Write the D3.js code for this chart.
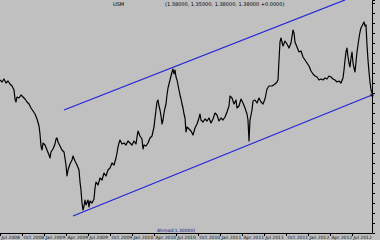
<!DOCTYPE html>
<html>
<head>
<meta charset="utf-8">
<script src="https://cdn.jsdelivr.net/npm/d3@7"></script>
<style>
  html, body { margin: 0; padding: 0; background: #c0c0c0; }
  svg { display: block; }
</style>
</head>
<body>
<div id="chart"></div>
<script>
(() => {
  const width = 380;
  const height = 240;

  // bar numbers and close prices
  const bars = [0,2,4,6,8,10,12,14,15,16,17,19,21,23,25,27,29,31,33,35,37,39,40,41,42,43,45,47,49,50,51,53,55,56,57,58,60,62,64,66,67,68,70,72,73,75,77,79,80,81,82,83,84,85,86,88,89,90,92,94,95,96,98,100,102,104,106,108,110,112,114,116,117,118,119,120,122,124,126,128,130,132,134,136,137,138,140,142,143,144,146,148,150,152,154,155,156,157,158,159,160,161,162,163,164,165,166,167,168,169,170,171,172,173,174,175,176,177,178,179,180,181,182,183,184,185,186,187,189,191,193,195,197,199,200,201,203,205,207,209,211,213,215,217,219,221,223,225,227,229,230,232,234,236,237,239,241,243,245,247,248,249,250,252,253,255,257,259,261,263,265,266,267,269,272,275,277,278,279,280,281,283,285,287,289,291,293,294,295,297,299,301,303,305,307,309,311,313,315,317,319,321,323,325,327,329,331,333,335,337,339,341,343,344,345,346,347,348,349,350,351,352,353,354,355,356,357,358,359,360,361,362,363,364,365,366,367,368,369,370,371,372];
  const closes = [1.406,1.402,1.408,1.400,1.404,1.398,1.394,1.386,1.368,1.362,1.372,1.370,1.376,1.372,1.368,1.362,1.358,1.350,1.344,1.338,1.328,1.314,1.298,1.274,1.266,1.280,1.276,1.266,1.256,1.250,1.262,1.268,1.278,1.288,1.290,1.282,1.274,1.266,1.262,1.236,1.214,1.226,1.238,1.246,1.254,1.244,1.236,1.226,1.202,1.186,1.160,1.146,1.154,1.166,1.156,1.166,1.152,1.164,1.160,1.168,1.190,1.202,1.196,1.210,1.206,1.220,1.214,1.226,1.230,1.240,1.236,1.250,1.260,1.272,1.280,1.286,1.278,1.280,1.276,1.284,1.280,1.276,1.284,1.278,1.292,1.304,1.294,1.288,1.268,1.276,1.274,1.280,1.290,1.294,1.312,1.330,1.346,1.362,1.366,1.354,1.346,1.334,1.318,1.326,1.340,1.350,1.358,1.376,1.390,1.398,1.406,1.414,1.422,1.428,1.418,1.426,1.412,1.406,1.396,1.386,1.376,1.368,1.358,1.350,1.338,1.330,1.302,1.312,1.308,1.304,1.296,1.310,1.318,1.330,1.338,1.326,1.322,1.328,1.324,1.330,1.320,1.328,1.340,1.336,1.324,1.330,1.326,1.332,1.342,1.354,1.374,1.370,1.358,1.366,1.350,1.354,1.368,1.360,1.350,1.338,1.326,1.284,1.326,1.346,1.364,1.366,1.360,1.370,1.362,1.358,1.368,1.378,1.388,1.394,1.394,1.398,1.402,1.406,1.446,1.482,1.490,1.474,1.484,1.478,1.470,1.480,1.506,1.500,1.482,1.472,1.462,1.464,1.452,1.446,1.440,1.434,1.424,1.418,1.414,1.412,1.406,1.408,1.406,1.410,1.408,1.414,1.412,1.408,1.406,1.402,1.404,1.400,1.410,1.426,1.446,1.462,1.470,1.452,1.440,1.432,1.450,1.462,1.440,1.430,1.422,1.442,1.462,1.476,1.490,1.502,1.510,1.514,1.518,1.522,1.514,1.516,1.476,1.446,1.422,1.402,1.386,1.380];

  // channel lines: [bar, price] end points
  const upperChannel = [[64, 1.346], [345, 1.566]];
  const lowerChannel = [[73, 1.134], [372, 1.376]];

  // price axis ticks (labels fall past the window edge) and date labels
  const priceTicks = [1.120,1.140,1.160,1.180,1.200,1.220,1.240,1.260,1.280,1.300,1.320,1.340,1.360,1.380,1.400,1.420,1.440,1.460,1.480,1.500,1.520,1.540,1.560];
  const dateBars = [0,22,44,66,88,110,132,154,176,198,220,242,264,286,308,330,352];
  const dateLabels = ["Jul 2008","Oct 2008","Jan 2009","Apr 2009","Jul 2009","Oct 2009","Jan 2010","Apr 2010","Jul 2010","Oct 2010","Jan 2011","Apr 2011","Jul 2011","Oct 2011","Jan 2012","Apr 2012","Jul 2012"];

  const symbol = "USM";
  const quote = "(1.38000, 1.35000, 1.38000, 1.38000 +0.0000)";
  const tag = "Ahmad(1.30000)";

  const plotRight = 372;
  const plotBottom = 233;

  const x = d3.scaleLinear().domain([0, 372]).range([0, plotRight]);
  const y = d3.scaleLinear().domain([1.100, 1.566]).range([plotBottom, 0]);

  const svg = d3.select("#chart")
    .append("svg")
    .attr("width", width)
    .attr("height", height)
    .style("background", "#c0c0c0");

  const series = bars.map((b, i) => [b, closes[i]]);

  const line = d3.line()
    .x(d => x(d[0]))
    .y(d => y(d[1]));

  // price line
  svg.append("path")
    .datum(series)
    .attr("fill", "none")
    .attr("stroke", "#000")
    .attr("stroke-width", 1.2)
    .attr("stroke-linejoin", "round")
    .attr("d", line);

  // channel
  svg.selectAll(".channel")
    .data([upperChannel, lowerChannel])
    .join("path")
    .attr("class", "channel")
    .attr("fill", "none")
    .attr("stroke", "#2424d8")
    .attr("stroke-width", 1.3)
    .attr("d", line);

  svg.append("rect")
    .attr("x", x(lowerChannel[1][0]) - 1.5)
    .attr("y", y(lowerChannel[1][1]) - 1.5)
    .attr("width", 3)
    .attr("height", 3)
    .attr("fill", "#222");

  // right price axis, ticks only (the labels sit outside the window)
  const yAxis = svg.append("g")
    .attr("transform", `translate(${plotRight},0)`)
    .call(d3.axisRight(y).tickValues(priceTicks).tickSize(3).tickFormat(""));
  yAxis.select(".domain").attr("stroke", "#000");
  yAxis.selectAll(".tick line").attr("stroke", "#000");

  // bottom time axis
  svg.append("line")
    .attr("x1", 0).attr("x2", plotRight)
    .attr("y1", plotBottom + 0.5).attr("y2", plotBottom + 0.5)
    .attr("stroke", "#000");

  const dates = svg.append("g")
    .attr("font-family", "DejaVu Sans, sans-serif")
    .attr("font-size", 4.5)
    .attr("fill", "#111");

  dates.selectAll("line")
    .data(dateBars)
    .join("line")
    .attr("x1", d => x(d) + 0.5)
    .attr("x2", d => x(d) + 0.5)
    .attr("y1", plotBottom)
    .attr("y2", plotBottom + 3)
    .attr("stroke", "#000");

  dates.selectAll("text")
    .data(dateBars)
    .join("text")
    .attr("x", d => x(d) + 1.5)
    .attr("y", height - 1)
    .text((d, i) => dateLabels[i]);

  // header
  const header = svg.append("g")
    .attr("font-family", "DejaVu Sans, sans-serif")
    .attr("font-size", 5)
    .attr("fill", "#000");
  header.append("text").attr("x", 113).attr("y", 6).text(symbol);
  header.append("text").attr("x", 165).attr("y", 6).text(quote);

  // small object tag on the bottom
  svg.append("text")
    .attr("x", 157)
    .attr("y", plotBottom - 1)
    .attr("font-family", "DejaVu Sans, sans-serif")
    .attr("font-size", 4.5)
    .attr("fill", "#1a1a80")
    .text(tag);
})();
</script>
</body>
</html>
